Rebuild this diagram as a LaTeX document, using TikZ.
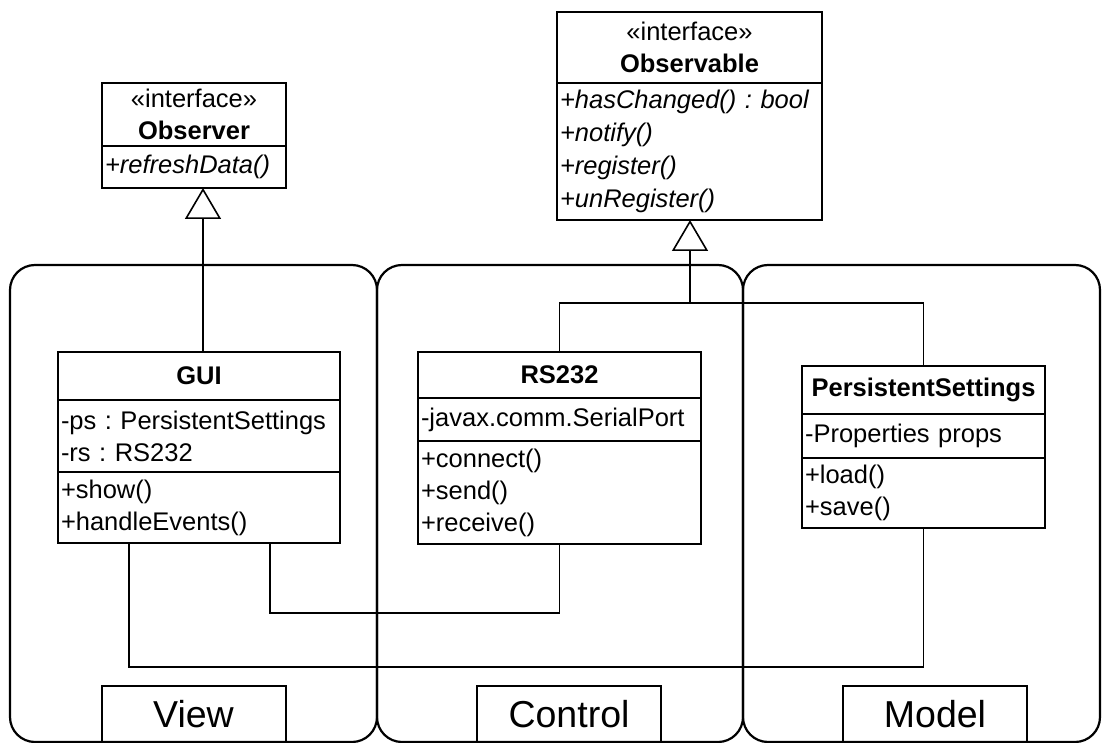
\documentclass[tikz,border=0pt]{standalone}
\usepackage{fontspec}
\setmainfont{Liberation Sans}
\usetikzlibrary{arrows.meta,positioning}

\begin{document}
\begin{tikzpicture}[
  x=1pt, y=1pt,
  every node/.style={font=\fontsize{12.75pt}{16pt}\selectfont\frenchspacing},
  layer/.style={draw, line width=1.1pt, rounded corners=12.5pt, anchor=north west, outer sep=0pt},
  layerlabel/.style={draw, line width=1pt, minimum width=92pt, minimum height=28pt, anchor=south, outer sep=0pt, inner sep=0pt, font=\fontsize{18.75pt}{22pt}\selectfont},
  classtitle/.style={draw, line width=1pt, outer sep=0pt, inner sep=0pt, align=center, anchor=north west},
  classpart/.style={draw, line width=1pt, outer sep=0pt, inner xsep=1.5pt, inner ysep=0pt, align=left, text width=#1},
  link/.style={line width=0.65pt},
  realize/.style={link, -{Triangle[open, length=15.5pt, width=18pt, line width=0.8pt]}}
]
  \useasboundingbox (0,0) rectangle (551,-371.5);

  \node[layer, minimum width=183.5pt, minimum height=238.5pt] (view) at (5,-132.5) {};
  \node[layer, minimum width=183pt, minimum height=238.5pt] (control) at (188.5,-132.5) {};
  \node[layer, minimum width=178.5pt, minimum height=238.5pt] (model) at (371.5,-132.5) {};
  \node[layerlabel] (viewlabel) at (view.south) {View};
  \node[layerlabel] (controllabel) at ([xshift=4.5pt]control.south) {Control};
  \node[layerlabel] (modellabel) at ([xshift=6.75pt]model.south) {Model};

  \node[classtitle, minimum width=92pt, minimum height=31.5pt] (observer) at (51,-41.5) {«interface»\\\textbf{Observer}};
  \node[classpart=89pt, minimum height=21pt, below=0pt of observer, font=\fontsize{12.75pt}{16pt}\selectfont\itshape] (observerops) {+refreshData()};

  \node[classtitle, minimum width=132.5pt, minimum height=35.5pt] (observable) at (278.5,-6) {«interface»\\\textbf{Observable}};
  \node[classpart=129.5pt, minimum height=68.5pt, below=0pt of observable, font=\fontsize{12.75pt}{16.5pt}\selectfont\itshape\frenchspacing] (observableops) {+hasChanged() : bool\\+notify()\\+register()\\+unRegister()};

  \node[classtitle, minimum width=141pt, minimum height=24pt] (gui) at (29,-176) {\textbf{GUI}};
  \node[classpart=138pt, minimum height=36pt, below=0pt of gui] (guiattr) {-ps : PersistentSettings\\-rs : RS232};
  \node[classpart=138pt, minimum height=35.5pt, below=0pt of guiattr] (guiops) {+show()\\+handleEvents()};

  \node[classtitle, minimum width=141.5pt, minimum height=23pt] (rs) at (209,-176) {\textbf{RS232}};
  \node[classpart=138.5pt, minimum height=21.5pt, below=0pt of rs] (rsattr) {-javax.comm.SerialPort};
  \node[classpart=138.5pt, minimum height=51.5pt, below=0pt of rsattr] (rsops) {+connect()\\+send()\\+receive()};

  \node[classtitle, minimum width=121.5pt, minimum height=24pt] (ps) at (401,-183) {\textbf{PersistentSettings}};
  \node[classpart=118.5pt, minimum height=22pt, below=0pt of ps] (psattr) {-Properties props};
  \node[classpart=118.5pt, minimum height=35pt, below=0pt of psattr] (psops) {+load()\\+save()};

  \coordinate (obsjoin) at (345,-151.5);

  \draw[realize] ([xshift=2pt]gui.north) -- ([xshift=2pt]gui.north |- observerops.south);
  \draw[link] (rs.north) |- (obsjoin) -| (ps.north);
  \draw[realize] (obsjoin) -- (obsjoin |- observableops.south);
  \draw[link] ([xshift=-35pt]guiops.south) -- ++(0,-62) -| (psops.south);
  \draw[link] ([xshift=35.5pt]guiops.south) -- ++(0,-35) -| (rsops.south);
\end{tikzpicture}
\end{document}
